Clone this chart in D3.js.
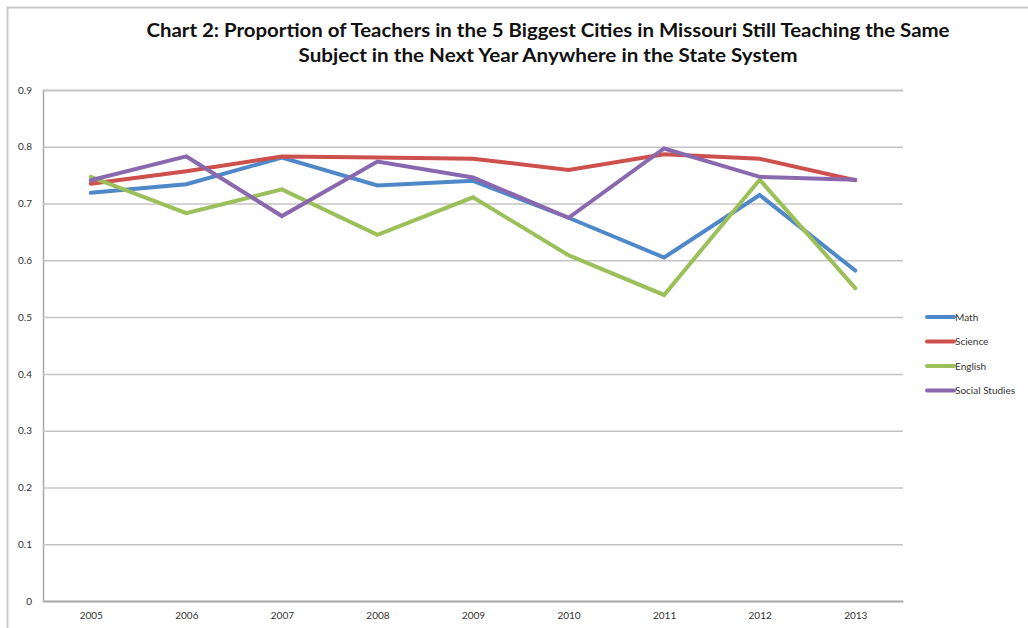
<!DOCTYPE html>
<html>
<head>
<meta charset="utf-8">
<script src="https://cdn.jsdelivr.net/npm/d3@7"></script>
<style>
  body { margin: 0; background: #fff; }
  text { font-family: "Lato", "Open Sans", sans-serif; }
</style>
</head>
<body>
<div id="container"></div>
<script>
// Data
var years = ["2005", "2006", "2007", "2008", "2009", "2010", "2011", "2012", "2013"];
var yTicks = [0, 0.1, 0.2, 0.3, 0.4, 0.5, 0.6, 0.7, 0.8, 0.9];
var seriesNames = ["Math", "Science", "English", "Social Studies"];
var math =    [0.719, 0.734, 0.781, 0.732, 0.740, 0.675, 0.605, 0.715, 0.582];
var science = [0.735, 0.757, 0.783, 0.781, 0.779, 0.759, 0.787, 0.779, 0.741];
var english = [0.747, 0.683, 0.725, 0.645, 0.711, 0.609, 0.539, 0.742, 0.551];
var social =  [0.741, 0.783, 0.678, 0.774, 0.746, 0.675, 0.797, 0.747, 0.742];
var colors = ["#4F88C8", "#CD504C", "#9BC05A", "#8A68AE"];

var seriesValues = [math, science, english, social];

// Set width and height
var width = 1028,
    height = 628;
var margin = {top: 90, left: 43, right: 903, bottom: 601};

var svg = d3.select("#container")
            .append("svg")
              .attr("width", width)
              .attr("height", height);

// Frame of the screenshot
svg.append("path")
    .attr("d", "M7.5," + height + "V7.5H" + width)
    .attr("fill", "none")
    .attr("stroke", "#c9c9c9")
    .attr("stroke-width", 2);

// Title
var titleLines = [
  "Chart 2: Proportion of Teachers in the 5 Biggest Cities in Missouri Still Teaching the Same",
  "Subject in the Next Year Anywhere in the State System"
];
var titleWidths = [803, 499];
svg.selectAll(".title")
    .data(titleLines)
    .enter()
    .append("text")
      .attr("class", "title")
      .attr("x", 548)
      .attr("y", function(d, i) { return 37 + i * 25; })
      .attr("text-anchor", "middle")
      .attr("textLength", function(d, i) { return titleWidths[i]; })
      .attr("lengthAdjust", "spacingAndGlyphs")
      .style("font-size", "19px")
      .style("font-weight", "bold")
      .style("fill", "#111")
      .text(function(d) { return d; });

// Scales
var x = d3.scalePoint()
          .domain(years)
          .range([margin.left, margin.right])
          .padding(0.5);

var y = d3.scaleLinear()
          .domain([0, 0.9])
          .range([margin.bottom, margin.top]);

// Gridlines
svg.append("g")
    .attr("transform", "translate(" + margin.left + ",0)")
    .call(d3.axisLeft(y)
            .tickValues(yTicks)
            .tickSize(-(margin.right - margin.left))
            .tickFormat(function(d) { return d === 0 ? "0" : d3.format(".1f")(d); }))
    .call(function(g) {
      g.select(".domain").attr("stroke", "#a8a8a8").attr("stroke-width", 1.5);
      g.selectAll(".tick line").attr("stroke", "#c4c4c4").attr("stroke-width", 1.5);
      g.selectAll(".tick text")
        .attr("x", -11)
        .style("font-size", "10px")
        .style("fill", "#333");
    });

// X axis labels
svg.append("g")
    .attr("transform", "translate(0," + margin.bottom + ")")
    .call(d3.axisBottom(x).tickSize(0))
    .call(function(g) {
      g.select(".domain").attr("stroke", "#a8a8a8").attr("stroke-width", 1.5);
      g.selectAll(".tick text")
        .attr("y", 11)
        .style("font-size", "10px")
        .style("fill", "#333");
    });

// Lines
var line = d3.line()
             .x(function(d, i) { return x(years[i]); })
             .y(function(d) { return y(d); });

svg.selectAll(".series")
    .data(seriesValues)
    .enter()
    .append("path")
      .attr("class", "series")
      .attr("d", line)
      .attr("fill", "none")
      .attr("stroke", function(d, i) { return colors[i]; })
      .attr("stroke-width", 4)
      .attr("stroke-linejoin", "miter")
      .attr("stroke-linecap", "round");

// Legend
var legend = svg.selectAll(".legend")
                .data(seriesNames)
                .enter()
                .append("g")
                  .attr("class", "legend")
                  .attr("transform", function(d, i) { return "translate(927," + (317 + i * 24.5) + ")"; });

legend.append("line")
    .attr("x1", 0)
    .attr("x2", 27)
    .attr("stroke", function(d, i) { return colors[i]; })
    .attr("stroke-width", 4)
    .attr("stroke-linecap", "round");

legend.append("text")
    .attr("x", 28)
    .attr("dy", "0.35em")
    .style("font-size", "10px")
    .style("fill", "#333")
    .text(function(d) { return d; });
</script>
</body>
</html>
